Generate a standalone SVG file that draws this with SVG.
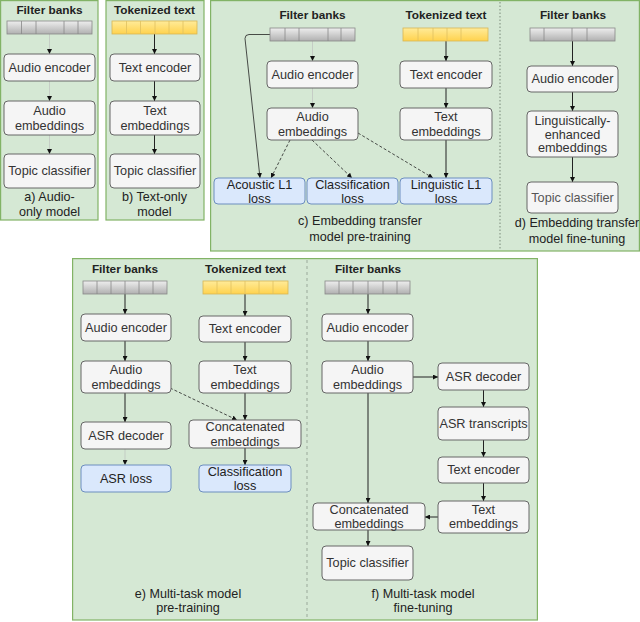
<svg xmlns="http://www.w3.org/2000/svg" width="640" height="622" viewBox="0 0 640 622">
<defs>
<linearGradient id="gGrey" x1="0" y1="0" x2="0" y2="1"><stop offset="0" stop-color="#eeeeee"/><stop offset="1" stop-color="#b0b0b0"/></linearGradient>
<linearGradient id="gYel" x1="0" y1="0" x2="0" y2="1"><stop offset="0" stop-color="#ffeb99"/><stop offset="1" stop-color="#ffd24d"/></linearGradient>
<marker id="ah" viewBox="0 0 10 10" refX="10" refY="5" markerWidth="5" markerHeight="5" markerUnits="userSpaceOnUse" orient="auto"><path d="M0,0 L10,5 L0,10 Z" fill="#111"/></marker>
<style>
.panel{fill:#d5e8d4;stroke:#82b366;stroke-width:1.2}
.div{stroke:#7a8a7a;stroke-width:1;stroke-dasharray:1.5,2;fill:none}
.node{fill:#f5f5f5;stroke:#666;stroke-width:1}
.loss{fill:#dae8fc;stroke:#6c8ebf;stroke-width:1}
.bg{fill:url(#gGrey);stroke:#888;stroke-width:0.8}
.by{fill:url(#gYel);stroke:#d6b656;stroke-width:0.8}
.seg{stroke:#888;stroke-width:0.8}
.segy{stroke:#e0c060;stroke-width:0.8}
text{font-family:"Liberation Sans",Arial,Helvetica,sans-serif;text-anchor:middle;dominant-baseline:central}
.t{font-size:12.7px;fill:#333}
.h{font-size:11.8px;font-weight:bold;fill:#222}
.c{font-size:12.6px;fill:#222}
.a{stroke:#222;stroke-width:1;fill:none;marker-end:url(#ah)}
.af{stroke:#bbb;stroke-width:0.6;fill:none;marker-end:url(#ah)}
.ad{stroke:#222;stroke-width:0.8;fill:none;stroke-dasharray:3,2;marker-end:url(#ah)}
.al{stroke:#222;stroke-width:0.8;fill:none;marker-end:url(#ah)}
</style>
</defs>

<g id="panels">
<rect class="panel" x="0.6" y="0.6" width="97.4" height="219.4"/>
<rect class="panel" x="106" y="0.6" width="98" height="219.4"/>
<rect class="panel" x="210.6" y="0.6" width="428.8" height="250.4"/>
<line class="div" x1="500" y1="2" x2="500" y2="250"/>
<rect class="panel" x="72.6" y="258.6" width="464.8" height="361.4"/>
<line class="div" x1="307" y1="260" x2="307" y2="619" style="stroke:#9aa99a;stroke-dasharray:3,3"/>
</g>

<g id="connectors">
<line class="af" x1="49.5" y1="34" x2="49.5" y2="54"/>
<line class="af" x1="49.5" y1="81" x2="49.5" y2="101"/>
<line class="af" x1="49.5" y1="135" x2="49.5" y2="154"/>
<line class="a" x1="154.5" y1="34" x2="154.5" y2="54"/>
<line class="a" x1="154.5" y1="81" x2="154.5" y2="101"/>
<line class="a" x1="154.5" y1="135" x2="154.5" y2="154"/>
<line class="af" x1="312.5" y1="41" x2="312.5" y2="61"/>
<line class="af" x1="312.5" y1="88" x2="312.5" y2="108"/>
<line class="a" x1="446" y1="41" x2="446" y2="61"/>
<line class="a" x1="446" y1="88" x2="446" y2="108"/>
<line class="a" x1="446" y1="140" x2="446" y2="178"/>
<path class="al" d="M270,34.5 H249 Q245,34.5 245,38.5 L260,178"/>
<line class="ad" x1="290" y1="140" x2="271" y2="178"/>
<line class="ad" x1="312" y1="140" x2="352" y2="178"/>
<line class="ad" x1="358" y1="133" x2="433" y2="178"/>
<line class="a" x1="572.5" y1="41" x2="572.5" y2="66"/>
<line class="a" x1="572.5" y1="92" x2="572.5" y2="111"/>
<line class="a" x1="572.5" y1="157" x2="572.5" y2="182"/>
<line class="a" x1="125" y1="294" x2="125" y2="314"/>
<line class="a" x1="125" y1="341" x2="125" y2="361"/>
<line class="a" x1="125" y1="393" x2="125" y2="422"/>
<line class="af" x1="125" y1="449" x2="125" y2="465"/>
<line class="a" x1="245" y1="294" x2="245" y2="316"/>
<line class="a" x1="245" y1="342" x2="245" y2="361"/>
<line class="a" x1="245" y1="393" x2="245" y2="420"/>
<line class="a" x1="245" y1="448" x2="245" y2="465"/>
<line class="ad" x1="170" y1="388" x2="237" y2="420"/>
<line class="a" x1="368" y1="294" x2="368" y2="314"/>
<line class="a" x1="368" y1="341" x2="368" y2="361"/>
<line class="a" x1="368" y1="393" x2="368" y2="503"/>
<line class="a" x1="413" y1="377" x2="438" y2="377"/>
<line class="a" x1="483.5" y1="390" x2="483.5" y2="407"/>
<line class="a" x1="483.5" y1="440" x2="483.5" y2="457"/>
<line class="a" x1="483.5" y1="483" x2="483.5" y2="501"/>
<line class="a" x1="438" y1="517" x2="425" y2="517"/>
<line class="a" x1="368" y1="530" x2="368" y2="546"/>
</g>

<g id="a-title"><text class="h" x="49.5" y="10">Filter banks</text></g>
<g id="a-bar"><rect class="bg" x="7" y="21" width="85" height="13"/><path class="seg" d="M21.5,21V34M36,21V34M64,21V34M78,21V34"/></g>
<g id="a-audio-encoder"><rect class="node" x="4" y="54" width="91" height="27" rx="4"/><text class="t" x="49.5" y="67.5">Audio encoder</text></g>
<g id="a-audio-embeddings"><rect class="node" x="4" y="101" width="91" height="34" rx="4"/><text class="t" x="49.5" y="111">Audio</text><text class="t" x="49.5" y="126">embeddings</text></g>
<g id="a-topic"><rect class="node" x="4" y="154" width="91" height="34" rx="4"/><text class="t" x="49.5" y="171">Topic classifier</text></g>
<g id="a-caption"><text class="c" x="49.5" y="197">a) Audio-</text><text class="c" x="49.5" y="212">only model</text></g>

<g id="b-title"><text class="h" x="154.5" y="10">Tokenized text</text></g>
<g id="b-bar"><rect class="by" x="112" y="21" width="85" height="13"/><path class="segy" d="M126.5,21V34M140.5,21V34M155,21V34M169,21V34M183,21V34"/></g>
<g id="b-text-encoder"><rect class="node" x="110" y="54" width="90" height="27" rx="4"/><text class="t" x="155" y="67.5">Text encoder</text></g>
<g id="b-text-embeddings"><rect class="node" x="110" y="101" width="90" height="34" rx="4"/><text class="t" x="155" y="111">Text</text><text class="t" x="155" y="126">embeddings</text></g>
<g id="b-topic"><rect class="node" x="110" y="154" width="90" height="34" rx="4"/><text class="t" x="155" y="171">Topic classifier</text></g>
<g id="b-caption"><text class="c" x="154.5" y="197">b) Text-only</text><text class="c" x="154.5" y="212">model</text></g>

<g id="c-title1"><text class="h" x="312.5" y="15">Filter banks</text></g>
<g id="c-title2"><text class="h" x="446" y="15">Tokenized text</text></g>
<g id="c-bar"><rect class="bg" x="270" y="28" width="85" height="13"/><path class="seg" d="M285,28V41M299,28V41M328,28V41M341,28V41"/></g>
<g id="c-ybar"><rect class="by" x="403" y="28" width="85" height="13"/><path class="segy" d="M418,28V41M433,28V41M447,28V41M461,28V41"/></g>
<g id="c-audio-encoder"><rect class="node" x="267" y="61" width="91" height="27" rx="4"/><text class="t" x="312.5" y="74.5">Audio encoder</text></g>
<g id="c-text-encoder"><rect class="node" x="400" y="61" width="92" height="27" rx="4"/><text class="t" x="446" y="74.5">Text encoder</text></g>
<g id="c-audio-embeddings"><rect class="node" x="267" y="108" width="91" height="32" rx="4"/><text class="t" x="312.5" y="117">Audio</text><text class="t" x="312.5" y="132">embeddings</text></g>
<g id="c-text-embeddings"><rect class="node" x="400" y="108" width="92" height="32" rx="4"/><text class="t" x="446" y="117">Text</text><text class="t" x="446" y="132">embeddings</text></g>
<g id="c-acoustic-loss"><rect class="loss" x="214" y="178" width="91" height="26" rx="4"/><text class="t" x="259.5" y="184.5" style="fill:#222">Acoustic L1</text><text class="t" x="259.5" y="198.5" style="fill:#222">loss</text></g>
<g id="c-class-loss"><rect class="loss" x="307" y="178" width="91" height="26" rx="4"/><text class="t" x="352.5" y="184.5" style="fill:#222">Classification</text><text class="t" x="352.5" y="198.5" style="fill:#222">loss</text></g>
<g id="c-ling-loss"><rect class="loss" x="400" y="178" width="92" height="26" rx="4"/><text class="t" x="446" y="184.5" style="fill:#222">Linguistic L1</text><text class="t" x="446" y="198.5" style="fill:#222">loss</text></g>
<g id="c-caption"><text class="c" x="360" y="221">c) Embedding transfer</text><text class="c" x="360" y="237">model pre-training</text></g>

<g id="d-title"><text class="h" x="573" y="15">Filter banks</text></g>
<g id="d-bar"><rect class="bg" x="530" y="28" width="85" height="13"/><path class="seg" d="M544,28V41M572,28V41M587,28V41"/></g>
<g id="d-audio-encoder"><rect class="node" x="527" y="66" width="91" height="26" rx="4"/><text class="t" x="572.5" y="79">Audio encoder</text></g>
<g id="d-ling-embeddings"><rect class="node" x="527" y="111" width="91" height="46" rx="4"/><text class="t" x="572.5" y="120.5">Linguistically-</text><text class="t" x="572.5" y="134.5">enhanced</text><text class="t" x="572.5" y="148">embeddings</text></g>
<g id="d-topic"><rect class="node" x="527" y="182" width="91" height="31" rx="4"/><text class="t" x="572.5" y="197.5" style="fill:#555">Topic classifier</text></g>
<g id="d-caption"><text class="c" x="577" y="223">d) Embedding transfer</text><text class="c" x="577" y="239">model fine-tuning</text></g>

<g id="e-title1"><text class="h" x="125" y="269">Filter banks</text></g>
<g id="e-title2"><text class="h" x="245.5" y="269">Tokenized text</text></g>
<g id="e-bar"><rect class="bg" x="83" y="281" width="84" height="13"/><path class="seg" d="M97,281V294M111,281V294M125,281V294M139,281V294M153,281V294"/></g>
<g id="e-ybar"><rect class="by" x="203" y="281" width="85" height="13"/><path class="segy" d="M217,281V294M231,281V294M245,281V294M259,281V294M273,281V294"/></g>
<g id="e-audio-encoder"><rect class="node" x="81" y="314" width="90" height="27" rx="4"/><text class="t" x="126" y="327.5">Audio encoder</text></g>
<g id="e-text-encoder"><rect class="node" x="199" y="316" width="92" height="26" rx="4"/><text class="t" x="245" y="329">Text encoder</text></g>
<g id="e-audio-embeddings"><rect class="node" x="81" y="361" width="90" height="32" rx="4"/><text class="t" x="126" y="370">Audio</text><text class="t" x="126" y="385">embeddings</text></g>
<g id="e-text-embeddings"><rect class="node" x="199" y="361" width="92" height="32" rx="4"/><text class="t" x="245" y="370">Text</text><text class="t" x="245" y="385">embeddings</text></g>
<g id="e-asr-decoder"><rect class="node" x="81" y="422" width="90" height="27" rx="4"/><text class="t" x="126" y="435.5">ASR decoder</text></g>
<g id="e-concat"><rect class="node" x="189" y="420" width="112" height="28" rx="4"/><text class="t" x="245" y="427">Concatenated</text><text class="t" x="245" y="441.5">embeddings</text></g>
<g id="e-asr-loss"><rect class="loss" x="81" y="465" width="90" height="27" rx="4"/><text class="t" x="126" y="478.5" style="fill:#222">ASR loss</text></g>
<g id="e-class-loss"><rect class="loss" x="199" y="465" width="92" height="27" rx="4"/><text class="t" x="245" y="471.5" style="fill:#222">Classification</text><text class="t" x="245" y="485.5" style="fill:#222">loss</text></g>
<g id="e-caption"><text class="c" x="188" y="594">e) Multi-task model</text><text class="c" x="188" y="608">pre-training</text></g>

<g id="f-title"><text class="h" x="368" y="269">Filter banks</text></g>
<g id="f-bar"><rect class="bg" x="325" y="281" width="85" height="13"/><path class="seg" d="M339,281V294M353,281V294M368,281V294M383,281V294M397,281V294"/></g>
<g id="f-audio-encoder"><rect class="node" x="322" y="314" width="91" height="27" rx="4"/><text class="t" x="367.5" y="327.5">Audio encoder</text></g>
<g id="f-audio-embeddings"><rect class="node" x="322" y="361" width="91" height="32" rx="4"/><text class="t" x="367.5" y="370">Audio</text><text class="t" x="367.5" y="385">embeddings</text></g>
<g id="f-asr-decoder"><rect class="node" x="438" y="363" width="91" height="27" rx="4"/><text class="t" x="483.5" y="376.5">ASR decoder</text></g>
<g id="f-asr-transcripts"><rect class="node" x="438" y="407" width="91" height="33" rx="4"/><text class="t" x="483.5" y="423.5">ASR transcripts</text></g>
<g id="f-text-encoder"><rect class="node" x="438" y="457" width="91" height="26" rx="4"/><text class="t" x="483.5" y="470">Text encoder</text></g>
<g id="f-text-embeddings"><rect class="node" x="438" y="501" width="91" height="32" rx="4"/><text class="t" x="483.5" y="509.5">Text</text><text class="t" x="483.5" y="524">embeddings</text></g>
<g id="f-concat"><rect class="node" x="313" y="503" width="112" height="27" rx="4"/><text class="t" x="369" y="509.5">Concatenated</text><text class="t" x="369" y="524">embeddings</text></g>
<g id="f-topic"><rect class="node" x="322" y="546" width="91" height="34" rx="4"/><text class="t" x="367.5" y="563">Topic classifier</text></g>
<g id="f-caption"><text class="c" x="423" y="594">f) Multi-task model</text><text class="c" x="423" y="608">fine-tuning</text></g>
</svg>
